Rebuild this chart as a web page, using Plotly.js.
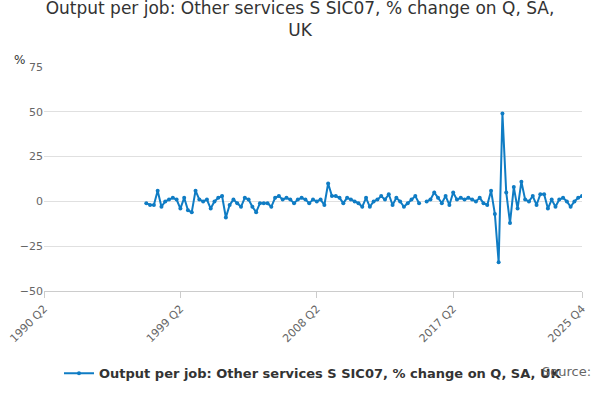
<!DOCTYPE html>
<html>
<head>
<script src="https://cdn.plot.ly/plotly-3.0.1.min.js"></script>
</head>
<body style="margin:0">
<div id="chart" style="width:600px;height:400px"></div>
<script>
// quarters 1990 Q2 .. 2025 Q4, data from 1997 Q1
var quarters = [];
for (var y = 1990; y <= 2025; y++) {
  for (var q = 1; q <= 4; q++) {
    if (y === 1990 && q < 2) continue;
    quarters.push(y + ' Q' + q);
  }
}
var segA = [-1,-2,-2,6,-3,0,1,2,1,-4,2,-5,-6,6,1,0,1,-4,0,2,3,-9,-2,1,-1,-3,2,1,-3,-6,-1,-1,-1,-3,2,3,1,2,1,-1,1,2,1,-1,1,0,1,-2];
var segB = [10,3,3,2,-1,2,1,0,-1,-3,2,-3,0,1,3,1,4,-2,2,0,-3,-1,1,3,-1];
var segC = [0,1,5,2,-1,3,-2,5,1,2,1,2,1,0,2,-1,-2,6,-7];
var segD = [-34,49,5,-12,8,-4,11,1,0,3,-2,4,4,-4,1,-3,1,2,0,-3,0,2,3];
var values = segA.concat(segB, [null], segC, segD);
var startIdx = quarters.indexOf('1997 Q1');
var yv = quarters.map(function (d, i) {
  var k = i - startIdx;
  return (k >= 0 && k < values.length) ? values[k] : null;
});
var tickLabels = ['1990 Q2', '1999 Q2', '2008 Q2', '2017 Q2', '2025 Q4'];

var trace = {
  x: quarters, y: yv, type: 'scatter', mode: 'lines+markers',
  name: '<b>Output per job: Other services S SIC07, % change on Q, SA, UK</b>',
  line: {color: '#0f7cc4', width: 2}, marker: {color: '#0f7cc4', size: 4},
  connectgaps: false
};
var layout = {
  width: 600, height: 400,
  font: {family: 'DejaVu Sans, sans-serif', color: '#333'},
  title: {text: 'Output per job: Other services S SIC07, % change on Q, SA,<br>UK', font: {size: 17, color: '#333'}, x: 0.5, y: 0.965},
  margin: {l: 44, r: 18, t: 67, b: 103},
  xaxis: {type: 'category', tickvals: tickLabels, ticktext: tickLabels, tickangle: -45,
    range: [0, quarters.length - 1], showgrid: false, ticks: 'outside', ticklen: 6, tickcolor: '#ccc',
    linecolor: '#ccc', showline: true, tickfont: {size: 11, color: '#666'}},
  yaxis: {range: [-50, 75], dtick: 25, gridcolor: '#e0e0e0', zeroline: false, tickfont: {size: 11, color: '#666'}},
  legend: {orientation: 'h', x: 0.5, xanchor: 'center', y: -0.3, font: {size: 13, color: '#333'}},
  annotations: [
    {text: '%', xref: 'paper', yref: 'paper', x: -0.06, y: 1.07, showarrow: false, font: {size: 12, color: '#333'}},
    {text: 'Source:', xref: 'paper', yref: 'paper', x: 1.02, xanchor: 'right', y: -0.4, showarrow: false, font: {size: 13, color: '#666'}}
  ],
  showlegend: true, plot_bgcolor: '#fff', paper_bgcolor: '#fff'
};
Plotly.newPlot('chart', [trace], layout, {displayModeBar: false});
</script>
</body>
</html>
